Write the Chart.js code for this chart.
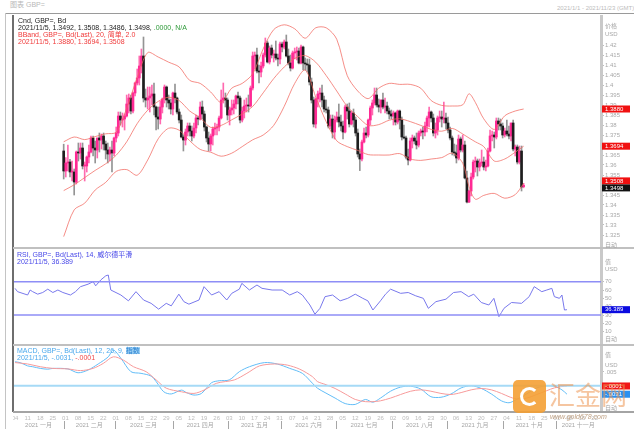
<!DOCTYPE html>
<html>
<head>
<meta charset="utf-8">
<script src="https://cdn.jsdelivr.net/npm/chart.js@4"></script>
<style>
  body { margin: 0; width: 634px; height: 437px; background: #fff; position: relative; overflow: hidden;
         font-family: "Liberation Sans", "Noto Sans CJK SC", Arial, sans-serif; }
  canvas { position: absolute; }
  .t { position: absolute; font-size: 7px; line-height: 7px; white-space: nowrap; }
  .ax { position: absolute; left: 605px; font-size: 6px; line-height: 6px; color: #a8a8a8; white-space: nowrap; }
  .ln { position: absolute; }
</style>
</head>
<body>
<canvas id="priceChart" width="621" height="233" style="left:13px;top:15px"></canvas>
<canvas id="rsiChart" width="621" height="97" style="left:13px;top:248px"></canvas>
<canvas id="macdChart" width="621" height="92" style="left:13px;top:345px"></canvas>

<div class="ln" style="left:5px;top:13px;width:629px;height:1px;background:#9a9a9a"></div>
<div class="ln" style="left:5px;top:13px;width:1px;height:416px;background:#c4c4c4"></div>
<div class="ln" style="left:12px;top:15px;width:2px;height:397px;background:#6e6e6e"></div>
<div class="ln" style="left:13px;top:247px;width:621px;height:2px;background:#c0c0c0"></div>
<div class="ln" style="left:13px;top:344px;width:621px;height:2px;background:#c0c0c0"></div>
<div class="ln" style="left:13px;top:411px;width:621px;height:2px;background:#a4a4a4"></div>

<div class="t" style="left:10px;top:1px;color:#b8b8b8">图表 GBP=</div>
<div class="t" style="left:557px;top:5px;color:#bcbcbc;font-size:6px">2021/1/1 - 2021/11/23 (GMT)</div>

<div class="t" style="left:18px;top:17px;color:#222">Cnd, GBP=, Bd</div>
<div class="t" style="left:18px;top:24px;color:#222">2021/11/5, 1.3492, 1.3508, 1.3486, 1.3498, <span style="color:#2f9a3a">.0000, N/A</span></div>
<div class="t" style="left:18px;top:31px;color:#f03a3a">BBand, GBP=, Bd(Last), 20, 简单, 2.0</div>
<div class="t" style="left:18px;top:38px;color:#f03a3a">2021/11/5, 1.3880, 1.3694, 1.3508</div>

<div class="t" style="left:17px;top:251px;color:#4848e8">RSI, GBP=, Bd(Last), 14, 威尔德平滑</div>
<div class="t" style="left:17px;top:258px;color:#4848e8">2021/11/5, 36.389</div>

<div class="t" style="left:17px;top:347px;color:#4aa8ec">MACD, GBP=, Bd(Last), 12, 26, 9, <span style="background:#9fd2f5;color:#2a80d0">指数</span></div>
<div class="t" style="left:17px;top:354px;color:#4aa8ec">2021/11/5, -.0031, <span style="color:#f04848">-.0001</span></div>

<div class="ax" style="top:23px">价格</div>
<div class="ax" style="top:31px">USD</div>
<div class="ax" style="top:242px">自动</div>
<div class="ax" style="top:259px">值</div>
<div class="ax" style="top:266px">USD</div>
<div class="ax" style="top:336px">自动</div>
<div class="ax" style="top:352px">值</div>
<div class="ax" style="top:362px">USD</div>
<div class="ax" style="top:405px">自动</div>

<div class="ln" style="left:513px;top:380px;width:33px;height:33px;background:#f4a034;border-radius:5px;opacity:.9"></div>
<div class="ln" style="left:520px;top:387px;width:13px;height:13px;border:3px solid #fff;border-right-color:transparent;border-radius:50%"></div>
<div class="t" style="left:549px;top:382px;font-size:26px;line-height:28px;color:rgba(236,150,82,.55)">汇金网</div>
<div class="t" style="left:550px;top:413px;font-size:7px;font-style:italic;color:#bfa184">www.gold678.com</div>

<script>
// one entry per trading day, index 0 = 2021-01-04 (Mon) ... 219 = 2021-11-05
const opens = [
  1.3670, 1.3570, 1.3610, 1.3615, 1.3565,  1.3565, 1.3515, 1.3665, 1.3660, 1.3685,
  1.3595, 1.3595, 1.3640, 1.3665, 1.3735,  1.3685, 1.3675, 1.3735, 1.3725, 1.3745,
  1.3705, 1.3675, 1.3655, 1.3675, 1.3660,  1.3735, 1.3760, 1.3845, 1.3825, 1.3830,
  1.3845, 1.3905, 1.3935, 1.3870, 1.3960,  1.4010, 1.4035, 1.4095, 1.4145, 1.3935,
  1.3925, 1.3935, 1.3945, 1.3955, 1.3890,  1.3840, 1.3830, 1.3890, 1.3930, 1.3990,
  1.3925, 1.3910, 1.3880, 1.3960, 1.3935,  1.3865, 1.3825, 1.3740, 1.3725, 1.3765,
  1.3795, 1.3770, 1.3745, 1.3785, 1.3835,  1.3830, 1.3890, 1.3855, 1.3790, 1.3735,
  1.3705, 1.3745, 1.3780, 1.3785, 1.3790,  1.3835, 1.3925, 1.3935, 1.3925, 1.3850,
  1.3875, 1.3885, 1.3905, 1.3945, 1.3935,  1.3825, 1.3870, 1.3895, 1.3900, 1.3895,
  1.3985, 1.4145, 1.4150, 1.4070, 1.4065,  1.4095, 1.4150, 1.4210, 1.4115, 1.4185,
  1.4150, 1.4155, 1.4135, 1.4130, 1.4205,  1.4190, 1.4215, 1.4145, 1.4110, 1.4085,
  1.4160, 1.4165, 1.4170, 1.4110, 1.4190,  1.4110, 1.4105, 1.4100, 1.4015, 1.3925,
  1.3805, 1.3930, 1.3955, 1.3960, 1.3925,  1.3880, 1.3875, 1.3795, 1.3830, 1.3765,
  1.3825, 1.3840, 1.3815, 1.3795, 1.3765,  1.3890, 1.3870, 1.3805, 1.3860, 1.3825,
  1.3760, 1.3655, 1.3630, 1.3715, 1.3760,  1.3750, 1.3825, 1.3885, 1.3910, 1.3950,
  1.3900, 1.3890, 1.3925, 1.3890, 1.3895,  1.3870, 1.3855, 1.3845, 1.3860, 1.3815,
  1.3870, 1.3825, 1.3740, 1.3735, 1.3640,  1.3625, 1.3720, 1.3735, 1.3720, 1.3700,
  1.3760, 1.3770, 1.3765, 1.3795, 1.3835,  1.3865, 1.3835, 1.3760, 1.3775, 1.3835,
  1.3840, 1.3830, 1.3835, 1.3810, 1.3775,  1.3735, 1.3665, 1.3660, 1.3635, 1.3730,
  1.3675, 1.3700, 1.3535, 1.3415, 1.3470,  1.3540, 1.3615, 1.3620, 1.3590, 1.3610,
  1.3615, 1.3590, 1.3595, 1.3670, 1.3745,  1.3750, 1.3740, 1.3820, 1.3805, 1.3795,
  1.3750, 1.3770, 1.3755, 1.3745, 1.3810,  1.3680, 1.3690, 1.3615, 1.3670, 1.3492
];
const highs = [
  1.3704, 1.3637, 1.3700, 1.3628, 1.3620,  1.3580, 1.3670, 1.3710, 1.3710, 1.3710,
  1.3615, 1.3645, 1.3700, 1.3745, 1.3745,  1.3720, 1.3735, 1.3760, 1.3755, 1.3760,
  1.3720, 1.3710, 1.3690, 1.3720, 1.3740,  1.3790, 1.3865, 1.3865, 1.3860, 1.3855,
  1.3950, 1.3955, 1.3950, 1.3965, 1.4015,  1.4080, 1.4145, 1.4180, 1.4240, 1.3980,
  1.3990, 1.3990, 1.4000, 1.4010, 1.3895,  1.3890, 1.3920, 1.3935, 1.4000, 1.3995,
  1.3950, 1.3930, 1.3965, 1.4005, 1.3940,  1.3880, 1.3850, 1.3750, 1.3780, 1.3810,
  1.3810, 1.3795, 1.3810, 1.3850, 1.3845,  1.3915, 1.3920, 1.3870, 1.3795, 1.3765,
  1.3755, 1.3790, 1.3810, 1.3805, 1.3845,  1.3975, 1.4010, 1.3960, 1.3935, 1.3890,
  1.3925, 1.3925, 1.3950, 1.3965, 1.3945,  1.3890, 1.3925, 1.3935, 1.3950, 1.3995,
  1.4165, 1.4165, 1.4185, 1.4100, 1.4115,  1.4160, 1.4235, 1.4220, 1.4195, 1.4200,
  1.4175, 1.4220, 1.4155, 1.4215, 1.4215,  1.4225, 1.4250, 1.4180, 1.4150, 1.4170,
  1.4185, 1.4190, 1.4185, 1.4200, 1.4195,  1.4135, 1.4130, 1.4130, 1.4035, 1.3940,
  1.3935, 1.3970, 1.3985, 1.4000, 1.3945,  1.3925, 1.3890, 1.3850, 1.3850, 1.3845,
  1.3865, 1.3905, 1.3850, 1.3820, 1.3900,  1.3905, 1.3910, 1.3870, 1.3880, 1.3840,
  1.3780, 1.3680, 1.3725, 1.3785, 1.3790,  1.3830, 1.3895, 1.3925, 1.3985, 1.3985,
  1.3930, 1.3925, 1.3960, 1.3935, 1.3915,  1.3885, 1.3875, 1.3870, 1.3865, 1.3875,
  1.3875, 1.3840, 1.3800, 1.3745, 1.3680,  1.3735, 1.3750, 1.3745, 1.3760, 1.3770,
  1.3780, 1.3790, 1.3815, 1.3845, 1.3890,  1.3870, 1.3855, 1.3810, 1.3845, 1.3870,
  1.3870, 1.3915, 1.3860, 1.3840, 1.3790,  1.3745, 1.3705, 1.3700, 1.3750, 1.3740,
  1.3750, 1.3720, 1.3570, 1.3475, 1.3560,  1.3625, 1.3640, 1.3630, 1.3630, 1.3675,
  1.3640, 1.3625, 1.3685, 1.3775, 1.3770,  1.3765, 1.3835, 1.3835, 1.3830, 1.3810,
  1.3785, 1.3825, 1.3795, 1.3810, 1.3825,  1.3700, 1.3700, 1.3695, 1.3695, 1.3508
];
const lows = [
  1.3530, 1.3540, 1.3570, 1.3540, 1.3520,  1.3450, 1.3505, 1.3620, 1.3630, 1.3580,
  1.3520, 1.3565, 1.3610, 1.3660, 1.3645,  1.3610, 1.3635, 1.3665, 1.3680, 1.3675,
  1.3630, 1.3610, 1.3620, 1.3565, 1.3645,  1.3715, 1.3745, 1.3800, 1.3790, 1.3775,
  1.3840, 1.3860, 1.3855, 1.3860, 1.3945,  1.4000, 1.4000, 1.4060, 1.3915, 1.3890,
  1.3880, 1.3865, 1.3900, 1.3850, 1.3775,  1.3780, 1.3805, 1.3860, 1.3910, 1.3890,
  1.3880, 1.3855, 1.3850, 1.3910, 1.3855,  1.3810, 1.3735, 1.3670, 1.3700, 1.3745,
  1.3745, 1.3720, 1.3735, 1.3760, 1.3800,  1.3825, 1.3830, 1.3770, 1.3715, 1.3670,
  1.3670, 1.3700, 1.3750, 1.3750, 1.3770,  1.3830, 1.3910, 1.3890, 1.3825, 1.3800,
  1.3850, 1.3855, 1.3880, 1.3905, 1.3810,  1.3815, 1.3835, 1.3865, 1.3865, 1.3890,
  1.3975, 1.4080, 1.4060, 1.4010, 1.4040,  1.4085, 1.4140, 1.4110, 1.4105, 1.4135,
  1.4115, 1.4125, 1.4095, 1.4105, 1.4165,  1.4180, 1.4140, 1.4100, 1.4070, 1.4080,
  1.4130, 1.4125, 1.4105, 1.4105, 1.4075,  1.4075, 1.4065, 1.4000, 1.3910, 1.3790,
  1.3785, 1.3890, 1.3915, 1.3890, 1.3865,  1.3860, 1.3785, 1.3780, 1.3735, 1.3730,
  1.3815, 1.3790, 1.3770, 1.3730, 1.3760,  1.3830, 1.3790, 1.3800, 1.3790, 1.3745,
  1.3640, 1.3572, 1.3620, 1.3710, 1.3735,  1.3740, 1.3800, 1.3850, 1.3900, 1.3890,
  1.3865, 1.3860, 1.3880, 1.3860, 1.3855,  1.3830, 1.3830, 1.3800, 1.3800, 1.3805,
  1.3780, 1.3725, 1.3730, 1.3630, 1.3600,  1.3620, 1.3685, 1.3705, 1.3680, 1.3690,
  1.3745, 1.3730, 1.3745, 1.3765, 1.3790,  1.3815, 1.3745, 1.3735, 1.3750, 1.3815,
  1.3790, 1.3810, 1.3780, 1.3760, 1.3725,  1.3650, 1.3645, 1.3610, 1.3625, 1.3665,
  1.3665, 1.3530, 1.3410, 1.3412, 1.3445,  1.3530, 1.3565, 1.3545, 1.3570, 1.3595,
  1.3575, 1.3570, 1.3590, 1.3665, 1.3720,  1.3685, 1.3730, 1.3775, 1.3775, 1.3735,
  1.3740, 1.3745, 1.3730, 1.3720, 1.3670,  1.3645, 1.3605, 1.3605, 1.3470, 1.3486
];
const closes = [
  1.3570, 1.3610, 1.3615, 1.3565, 1.3565,  1.3515, 1.3665, 1.3660, 1.3685, 1.3595,
  1.3595, 1.3640, 1.3665, 1.3735, 1.3685,  1.3675, 1.3735, 1.3725, 1.3745, 1.3705,
  1.3675, 1.3655, 1.3675, 1.3660, 1.3735,  1.3760, 1.3845, 1.3825, 1.3830, 1.3845,
  1.3905, 1.3935, 1.3870, 1.3960, 1.4010,  1.4035, 1.4095, 1.4145, 1.3935, 1.3925,
  1.3935, 1.3945, 1.3955, 1.3890, 1.3840,  1.3830, 1.3890, 1.3930, 1.3990, 1.3925,
  1.3910, 1.3880, 1.3960, 1.3935, 1.3865,  1.3825, 1.3740, 1.3725, 1.3765, 1.3795,
  1.3770, 1.3745, 1.3785, 1.3835, 1.3830,  1.3890, 1.3855, 1.3790, 1.3735, 1.3705,
  1.3745, 1.3780, 1.3785, 1.3790, 1.3835,  1.3925, 1.3935, 1.3925, 1.3850, 1.3875,
  1.3885, 1.3905, 1.3945, 1.3935, 1.3825,  1.3870, 1.3895, 1.3900, 1.3895, 1.3985,
  1.4145, 1.4150, 1.4070, 1.4065, 1.4095,  1.4150, 1.4210, 1.4115, 1.4185, 1.4150,
  1.4155, 1.4135, 1.4130, 1.4205, 1.4190,  1.4215, 1.4145, 1.4110, 1.4085, 1.4160,
  1.4165, 1.4170, 1.4110, 1.4190, 1.4110,  1.4105, 1.4100, 1.4015, 1.3925, 1.3805,
  1.3930, 1.3955, 1.3960, 1.3925, 1.3880,  1.3875, 1.3795, 1.3830, 1.3765, 1.3825,
  1.3840, 1.3815, 1.3795, 1.3765, 1.3890,  1.3870, 1.3805, 1.3860, 1.3825, 1.3760,
  1.3655, 1.3630, 1.3715, 1.3760, 1.3750,  1.3825, 1.3885, 1.3910, 1.3950, 1.3900,
  1.3890, 1.3925, 1.3890, 1.3895, 1.3870,  1.3855, 1.3845, 1.3860, 1.3815, 1.3870,
  1.3825, 1.3740, 1.3735, 1.3640, 1.3625,  1.3720, 1.3735, 1.3720, 1.3700, 1.3760,
  1.3770, 1.3765, 1.3795, 1.3835, 1.3865,  1.3835, 1.3760, 1.3775, 1.3835, 1.3840,
  1.3830, 1.3835, 1.3810, 1.3775, 1.3735,  1.3665, 1.3660, 1.3635, 1.3730, 1.3675,
  1.3700, 1.3535, 1.3415, 1.3470, 1.3540,  1.3615, 1.3620, 1.3590, 1.3610, 1.3615,
  1.3590, 1.3595, 1.3670, 1.3745, 1.3750,  1.3740, 1.3820, 1.3805, 1.3795, 1.3750,
  1.3770, 1.3755, 1.3745, 1.3810, 1.3680,  1.3690, 1.3615, 1.3670, 1.3490, 1.3498
];

// Bollinger (20, 2.0) at these day indices
const bandIdx = [0, 5, 10, 15, 20, 25, 30, 35, 40, 45, 50, 55, 60, 65, 70, 75, 80, 85, 90, 95,
  100, 105, 110, 115, 120, 125, 130, 135, 140, 145, 150, 155, 160, 165, 170, 175, 180, 185,
  190, 193, 196, 200, 205, 210, 215, 219];
const bbUpper = [1.3716, 1.3740, 1.3727, 1.3742, 1.3756, 1.3764, 1.3884, 1.4037, 1.4162, 1.4140,
  1.4114, 1.4090, 1.4023, 1.4008, 1.3965, 1.3913, 1.3984, 1.4008, 1.4056, 1.4181,
  1.4277, 1.4301, 1.4281, 1.4234, 1.4286, 1.4286, 1.4229, 1.4047, 1.3970, 1.3932,
  1.3984, 1.4008, 1.4003, 1.4003, 1.3984, 1.3922, 1.3898, 1.3895, 1.3901, 1.3956,
  1.3913, 1.3831, 1.3778, 1.3846, 1.3870, 1.3880];
const bbMid = [1.3472, 1.3501, 1.3537, 1.3573, 1.3606, 1.3649, 1.3716, 1.3807, 1.3874, 1.3918,
  1.3939, 1.3922, 1.3870, 1.3836, 1.3788, 1.3798, 1.3826, 1.3855, 1.3893, 1.3961,
  1.4032, 1.4090, 1.4133, 1.4147, 1.4114, 1.4047, 1.3970, 1.3893, 1.3842, 1.3798,
  1.3802, 1.3824, 1.3831, 1.3817, 1.3798, 1.3778, 1.3769, 1.3783, 1.3755, 1.3735,
  1.3716, 1.3692, 1.3620, 1.3630, 1.3664, 1.3694];
const bbLower = [1.3242, 1.3376, 1.3409, 1.3475, 1.3513, 1.3568, 1.3577, 1.3549, 1.3625, 1.3731,
  1.3784, 1.3774, 1.3721, 1.3678, 1.3664, 1.3644, 1.3659, 1.3692, 1.3726, 1.3750,
  1.3798, 1.3893, 1.4008, 1.4075, 1.3940, 1.3816, 1.3721, 1.3692, 1.3673, 1.3652,
  1.3650, 1.3650, 1.3657, 1.3630, 1.3623, 1.3630, 1.3637, 1.3659, 1.3609, 1.3491,
  1.3429, 1.3448, 1.3458, 1.3434, 1.3452, 1.3508];

// RSI (14)
const rsiIdx = [0, 1, 5, 6, 7, 9, 11, 13, 15, 17, 19, 22, 24, 26, 29, 31, 32, 34, 36, 37,
  38, 42, 45, 48, 51, 54, 57, 60, 62, 65, 67, 69, 73, 75, 78, 81, 84, 86, 89, 90,
  93, 96, 98, 102, 106, 109, 112, 114, 117, 119, 121, 123, 126, 129, 132, 135, 138, 140, 142, 145,
  147, 149, 153, 156, 159, 162, 164, 167, 171, 174, 177, 180, 182, 185, 188, 190, 192, 193, 194, 197,
  201, 204, 206, 209, 211, 213, 214, 216, 217, 218, 219];
const rsiVal = [62, 58, 54, 60, 58, 55, 57, 61, 57, 60, 57, 54, 58, 64, 67, 70, 65, 72, 77, 78,
  60, 54, 47, 58, 48, 44, 37, 44, 41, 55, 46, 43, 48, 64, 54, 58, 48, 56, 61, 68,
  60, 66, 62, 60, 60, 54, 58, 54, 42, 31, 38, 52, 54, 47, 50, 55, 50, 47, 36, 47,
  55, 61, 56, 57, 53, 50, 38, 46, 49, 57, 58, 52, 55, 45, 42, 50, 28, 33, 38, 45,
  44, 52, 64, 58, 60, 62, 52, 50, 54, 36, 36.389];

// MACD (12, 26, 9)
const macdIdx = [0, 2, 5, 7, 10, 13, 15, 21, 25, 29, 33, 37, 39, 42, 46, 50, 54, 56, 59, 62,
  66, 68, 71, 74, 78, 81, 85, 89, 93, 99, 104, 109, 114, 118, 120, 123, 127, 131, 135, 139,
  142, 145, 149, 153, 157, 161, 165, 169, 173, 177, 181, 185, 189, 193, 196, 199, 203, 207, 211, 214,
  217, 219];
const macdVal = [.0087, .0084, .0072, .0069, .0063, .0060, .0063, .0061, .0047, .0057, .0079, .0105, .0130, .0100, .0051, .0045, .0035, .0015, -.0022, -.0030,
  -.0016, -.0025, -.0034, -.0028, .0011, .0018, .0021, .0051, .0069, .0084, .0079, .0063, .0045, .0009, -.0009, -.0025, -.0045, -.0065, -.0068, -.0050,
  -.0060, -.0045, -.0020, -.0005, -.0002, -.0012, -.0040, -.0042, -.0030, -.0008, .0000, -.0010, -.0030, -.0055, -.0062, -.0050, -.0030, -.0008, .0000, -.0002,
  -.0015, -.0031];
const signalIdx = [0, 5, 10, 15, 21, 26, 31, 35, 39, 43, 47, 52, 56, 60, 66, 71, 75, 80, 87, 92,
  97, 103, 108, 113, 118, 120, 123, 127, 131, 135, 139, 142, 145, 149, 153, 157, 161, 165, 169, 173,
  177, 181, 185, 189, 193, 196, 199, 203, 207, 211, 214, 217, 219];
const signalVal = [.0084, .0079, .0069, .0063, .0061, .0055, .0063, .0081, .0105, .0093, .0069, .0051, .0021, -.0009, -.0022, -.0028, -.0016, .0009, .0021, .0045,
  .0072, .0079, .0075, .0060, .0033, .0015, .0005, -.0010, -.0030, -.0050, -.0058, -.0058, -.0055, -.0045, -.0032, -.0020, -.0015, -.0020, -.0028, -.0032,
  -.0025, -.0015, -.0010, -.0015, -.0028, -.0040, -.0048, -.0045, -.0032, -.0018, -.0008, -.0003, -.0001];

// time axis: Mondays every 5 trading days, month starts as day indices
const weekLabels = ['04', '11', '18', '25', '01', '08', '15', '22', '01', '08', '15', '22', '29',
  '05', '12', '19', '26', '03', '10', '17', '24', '31', '07', '14', '21', '28', '05', '12', '19', '26',
  '02', '09', '16', '23', '30', '06', '13', '20', '27', '04', '11', '18', '25', '01', '08', '15', '22'];
const monthNames = ['2021 一月', '2021 二月', '2021 三月', '2021 四月', '2021 五月', '2021 六月',
  '2021 七月', '2021 八月', '2021 九月', '2021 十月', '2021 十一月'];
const monthStart = [0, 20, 40, 63, 85, 106, 128, 150, 172, 194, 215];

const FONT = '"Liberation Sans", "Noto Sans CJK SC", Arial, sans-serif';
const UP = '#ff2a94', DOWN = '#1e1e1e';

const pts = (xs, ys) => xs.map((x, i) => ({x, y: ys[i]}));
const xScale = {type: 'linear', min: -0.8, max: 232.5, display: false};

function rightAxis(min, max, step, fmt) {
  return {
    position: 'right', min, max,
    afterFit: s => { s.width = 33; s.paddingTop = 0; s.paddingBottom = 0; },
    grid: {drawOnChartArea: false, drawTicks: true, tickLength: 3, color: '#bdbdbd'},
    border: {display: true, color: '#c9c9c9', width: 3},
    ticks: {stepSize: step, autoSkip: false, padding: 1, color: '#a8a8a8',
            font: {size: 6, family: FONT}, callback: fmt}
  };
}

function valueBoxes(items) {
  return {
    id: 'valueBoxes',
    afterDraw(chart) {
      const {ctx, chartArea, scales: {y}} = chart;
      const boxes = items.map(b => ({...b, top: y.getPixelForValue(b.v) - 3.5}))
                         .sort((a, b) => a.top - b.top);
      for (let i = 1; i < boxes.length; i++) {
        const over = boxes[i - 1].top + 7 - boxes[i].top;
        if (over > 0) { boxes[i - 1].top -= over / 2; boxes[i].top += over / 2; }
      }
      ctx.save();
      ctx.font = '6px ' + FONT;
      ctx.textBaseline = 'middle';
      boxes.forEach(b => {
        ctx.fillStyle = b.bg;
        ctx.fillRect(chartArea.right + 1, b.top, 28, 7);
        ctx.fillStyle = '#fff';
        ctx.fillText(b.text, chartArea.right + 4, b.top + 3.6);
      });
      ctx.restore();
    }
  };
}

const timeAxis = {
  id: 'timeAxis',
  afterDraw(chart) {
    const {ctx, chartArea, scales: {x}} = chart;
    ctx.save();
    ctx.font = '6px ' + FONT;
    ctx.textAlign = 'center';
    ctx.textBaseline = 'middle';
    ctx.fillStyle = '#bcbcbc';
    weekLabels.forEach((t, k) => ctx.fillText(t, x.getPixelForValue(k * 5), chartArea.bottom + 6));
    ctx.fillStyle = '#a6a6a6';
    monthStart.forEach((m, k) => {
      const left = k === 0 ? chartArea.left : x.getPixelForValue(m - 0.5);
      const right = k + 1 < monthStart.length ? x.getPixelForValue(monthStart[k + 1] - 0.5) : chartArea.right;
      ctx.fillText(monthNames[k], (left + right) / 2, chartArea.bottom + 13);
      if (k > 0) ctx.fillRect(Math.round(left), chartArea.bottom + 9, 1, 8);
    });
    ctx.restore();
  }
};

const base = {
  responsive: false, animation: false, devicePixelRatio: 1,
  layout: {padding: 0},
  plugins: {legend: {display: false}, tooltip: {enabled: false}}
};

const isUp = closes.map((c, i) => c >= opens[i]);
const bandLine = (data, order) => ({type: 'line', data, borderColor: 'rgba(242,104,96,0.75)', borderWidth: 1,
  pointRadius: 0, tension: 0.3, order});

new Chart(document.getElementById('priceChart'), {
  type: 'bar',
  data: {
    datasets: [
      {data: lows.map((l, i) => ({x: i, y: [l, highs[i]]})), barThickness: 1, grouped: false, order: 3,
       backgroundColor: isUp.map(u => u ? '#ff6ab0' : '#949494')},
      {data: opens.map((o, i) => ({x: i, y: [o, closes[i]]})), barThickness: 2, minBarLength: 1, grouped: false, order: 2,
       backgroundColor: isUp.map(u => u ? UP : DOWN)},
      bandLine(pts(bandIdx, bbUpper), 1),
      bandLine(pts(bandIdx, bbMid), 1),
      bandLine(pts(bandIdx, bbLower), 1)
    ]
  },
  options: {
    ...base,
    scales: {
      x: xScale,
      y: rightAxis(1.3185, 1.435, 0.005, v => (v > 1.4205 || v < 1.3245) ? null : String(+v.toFixed(3)))
    }
  },
  plugins: [valueBoxes([
    {v: bbUpper[bbUpper.length - 1], text: '1.3880', bg: '#f01010'},
    {v: bbMid[bbMid.length - 1], text: '1.3694', bg: '#f01010'},
    {v: bbLower[bbLower.length - 1], text: '1.3508', bg: '#f01010'},
    {v: closes[closes.length - 1], text: '1.3498', bg: '#111'}
  ])]
});

new Chart(document.getElementById('rsiChart'), {
  type: 'line',
  data: {
    datasets: [
      {data: [{x: -0.8, y: 70}, {x: 232.5, y: 70}], borderColor: '#8e8ef6', borderWidth: 1.5, pointRadius: 0},
      {data: [{x: -0.8, y: 30}, {x: 232.5, y: 30}], borderColor: '#8e8ef6', borderWidth: 1.5, pointRadius: 0},
      {data: pts(rsiIdx, rsiVal), borderColor: '#7878ec', borderWidth: 1, pointRadius: 0, tension: 0}
    ]
  },
  options: {
    ...base,
    scales: {
      x: xScale,
      y: rightAxis(-6, 110.4, 10, v => (v < 10 || v > 70) ? null : String(v))
    }
  },
  plugins: [valueBoxes([{v: rsiVal[rsiVal.length - 1], text: '36.389', bg: '#0a0ae0'}])]
});

new Chart(document.getElementById('macdChart'), {
  type: 'line',
  data: {
    datasets: [
      {data: [{x: -0.8, y: 0}, {x: 232.5, y: 0}], borderColor: '#a6daf6', borderWidth: 2, pointRadius: 0},
      {data: pts(signalIdx, signalVal), borderColor: '#f79a9a', borderWidth: 1, pointRadius: 0, tension: 0.3},
      {data: pts(macdIdx, macdVal), borderColor: '#62bdf7', borderWidth: 1, pointRadius: 0, tension: 0.3}
    ]
  },
  options: {
    ...base,
    layout: {padding: {bottom: 25}},
    scales: {
      x: xScale,
      y: rightAxis(-0.00956, 0.0148, 0.005, v => Math.abs(v - 0.005) < 1e-6 ? '.005' : null)
    }
  },
  plugins: [timeAxis, valueBoxes([
    {v: signalVal[signalVal.length - 1], text: '-.0001', bg: '#f01818'},
    {v: macdVal[macdVal.length - 1], text: '-.0031', bg: '#2a90f0'}
  ])]
});
</script>
</body>
</html>
